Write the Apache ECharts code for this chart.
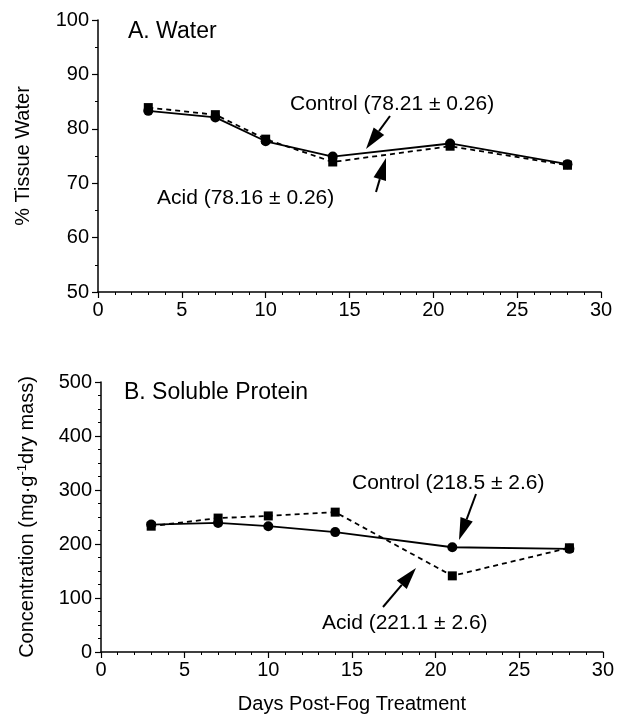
<!DOCTYPE html>
<html>
<head>
<meta charset="utf-8">
<script src="https://cdn.jsdelivr.net/npm/echarts@6/dist/echarts.min.js"></script>
<style>
  html, body { margin: 0; padding: 0; background: #fff; }
  #main { width: 617px; height: 715px; }
</style>
</head>
<body>
<div id="main"></div>
<script>
var days = [3, 7, 10, 14, 21, 28];
var waterControl = [83.3, 82.1, 77.7, 74.9, 77.3, 73.5];
var waterAcid = [83.9, 82.6, 78.1, 73.9, 76.8, 73.3];
var proteinControl = [236, 239, 233, 222, 194, 191];
var proteinAcid = [233, 248, 252, 259, 141, 193];

var FONT = '"Liberation Sans", Arial, sans-serif';

function pairs(xs, ys) {
    return xs.map(function (x, i) { return [x, ys[i]]; });
}

// arrow: straight shaft plus filled head, tail -> tip
function arrow(x1, y1, x2, y2) {
    var dx = x2 - x1, dy = y2 - y1;
    var len = Math.sqrt(dx * dx + dy * dy);
    var ux = dx / len, uy = dy / len;
    var hl = 22, hw = 6.5;
    var bx = x2 - ux * hl, by = y2 - uy * hl;
    return [{
        type: 'line',
        shape: { x1: x1, y1: y1, x2: bx, y2: by },
        style: { stroke: '#000', lineWidth: 2 }
    }, {
        type: 'polygon',
        shape: { points: [[x2, y2], [bx - uy * hw, by + ux * hw], [bx + uy * hw, by - ux * hw]] },
        style: { fill: '#000' }
    }];
}

function label(text, x, y) {
    return {
        type: 'text', left: x, top: y,
        style: { text: text, font: '21px ' + FONT, fill: '#000' }
    };
}

function xAxis(idx, name) {
    return {
        type: 'value', gridIndex: idx, min: 0, max: 30, interval: 5,
        name: name, nameLocation: 'middle', nameGap: 42,
        nameTextStyle: { fontSize: 20, fontFamily: FONT, color: '#000' },
        axisLine: { lineStyle: { color: '#000', width: 1.5 } },
        axisTick: { length: 6, lineStyle: { color: '#000', width: 1.2 } },
        minorTick: { show: true, splitNumber: 5, length: 3, lineStyle: { color: '#000' } },
        axisLabel: { fontSize: 20, fontFamily: FONT, color: '#000', margin: 8 },
        splitLine: { show: false }
    };
}

function yAxis(idx, min, max, interval, minor, name, gap, rich) {
    return {
        type: 'value', gridIndex: idx, min: min, max: max, interval: interval,
        name: name, nameLocation: 'middle', nameGap: gap,
        nameTextStyle: { fontSize: 20, fontFamily: FONT, color: '#000', rich: rich },
        axisLine: { show: true, lineStyle: { color: '#000', width: 1.5 } },
        axisTick: { length: 6, lineStyle: { color: '#000', width: 1.2 } },
        minorTick: { show: true, splitNumber: minor, length: 3, lineStyle: { color: '#000' } },
        axisLabel: { fontSize: 20, fontFamily: FONT, color: '#000', margin: 9 },
        splitLine: { show: false }
    };
}

function series(idx, data, dashed, symbol) {
    return {
        type: 'line', xAxisIndex: idx, yAxisIndex: idx,
        data: data, symbol: symbol, symbolSize: symbol === 'circle' ? 10 : 9,
        itemStyle: { color: '#000' },
        lineStyle: { color: '#000', width: 1.8, type: dashed ? [5, 4] : 'solid' },
        animation: false
    };
}

var myChart = echarts.init(document.getElementById('main'));

var option = {
    backgroundColor: '#fff',
    animation: false,
    title: [
        { text: 'A. Water', left: 123, top: 15, textStyle: { fontSize: 23, fontWeight: 'normal', fontFamily: FONT, color: '#000' } },
        { text: 'B. Soluble Protein', left: 119, top: 376, textStyle: { fontSize: 23, fontWeight: 'normal', fontFamily: FONT, color: '#000' } }
    ],
    grid: [
        { left: 98, right: 16, top: 20, height: 272 },
        { left: 101, right: 14, top: 382, height: 271 }
    ],
    xAxis: [xAxis(0, ''), xAxis(1, 'Days Post-Fog Treatment')],
    yAxis: [
        yAxis(0, 50, 100, 10, 2, '% Tissue Water', 65),
        yAxis(1, 0, 500, 100, 4, '{t|Concentration (mg\u00b7g}{s|-1}{t|dry mass)}', 62, {
            t: { fontSize: 20, fontFamily: FONT, color: '#000' },
            s: { fontSize: 13, fontFamily: FONT, color: '#000', verticalAlign: 'top', padding: [0, 0, 10, 0] }
        })
    ],
    series: [
        series(0, pairs(days, waterControl), false, 'circle'),
        series(0, pairs(days, waterAcid), true, 'rect'),
        series(1, pairs(days, proteinControl), false, 'circle'),
        series(1, pairs(days, proteinAcid), true, 'rect')
    ],
    graphic: [
        label('Control (78.21 \u00b1 0.26)', 290, 94),
        label('Acid (78.16 \u00b1 0.26)', 157, 188),
        label('Control (218.5 \u00b1 2.6)', 352, 473),
        label('Acid (221.1 \u00b1 2.6)', 322, 613)
    ].concat(arrow(390, 116, 366, 149))
     .concat(arrow(376, 192, 386, 158))
     .concat(arrow(476, 494, 459, 540))
     .concat(arrow(383, 607, 416, 568))
};

myChart.setOption(option);
</script>
</body>
</html>
